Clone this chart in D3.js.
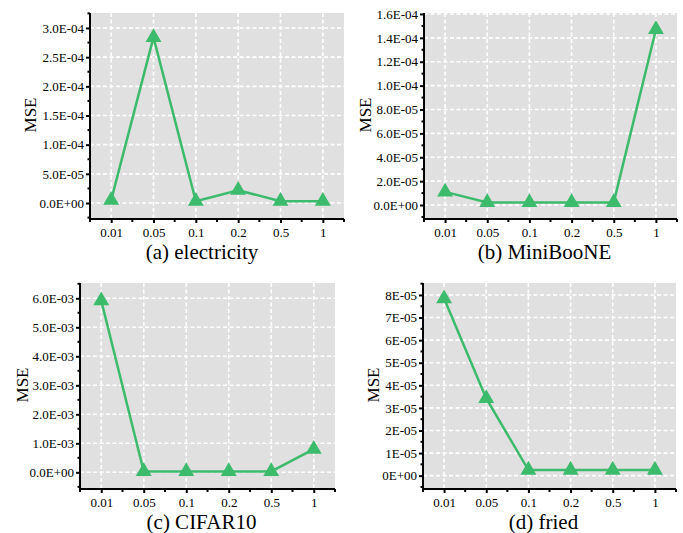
<!DOCTYPE html>
<html><head><meta charset="utf-8">
<script src="https://cdn.jsdelivr.net/npm/d3@7"></script>
<style>body{margin:0;background:#fff}svg{display:block}</style>
</head><body><svg id="c" width="683" height="533" font-family="Liberation Serif"></svg>
<script>
const categories = ["0.01","0.05","0.1","0.2","0.5","1"];
const electricity = [5e-6, 2.84e-4, 3e-6, 2.2e-5, 3e-6, 3e-6];
const miniboone = [1.1e-5, 2.2e-6, 2.2e-6, 2.2e-6, 2.2e-6, 1.47e-4];
const cifar10 = [5.92e-3, 3e-5, 3e-5, 3e-5, 3e-5, 8.0e-4];
const fried = [7.84e-5, 3.42e-5, 2.5e-6, 2.5e-6, 2.5e-6, 2.5e-6];
const ticksA = [0, 5e-5, 1e-4, 1.5e-4, 2e-4, 2.5e-4, 3e-4];
const ticksB = [0, 2e-5, 4e-5, 6e-5, 8e-5, 1e-4, 1.2e-4, 1.4e-4, 1.6e-4];
const ticksC = [0, 1e-3, 2e-3, 3e-3, 4e-3, 5e-3, 6e-3];
const ticksD = [0, 1e-5, 2e-5, 3e-5, 4e-5, 5e-5, 6e-5, 7e-5, 8e-5];
const captions = ["(a) electricity", "(b) MiniBooNE", "(c) CIFAR10", "(d) fried"];

const panels = [
  {vals: electricity, ticks: ticksA, dec: 1, domain: [-2.74e-5, 3.257e-4], cap: captions[0], x: 90, y: 13, w: 254, h: 206, lab: 60, capY: 259, capDx: -15},
  {vals: miniboone, ticks: ticksB, dec: 1, domain: [-1.17e-5, 1.608e-4], cap: captions[1], x: 424, y: 13, w: 253, h: 206, lab: 59, capY: 259, capDx: -6},
  {vals: cifar10, ticks: ticksC, dec: 1, domain: [-5.75e-4, 6.527e-3], cap: captions[2], x: 80, y: 283, w: 255, h: 206, lab: 58, capY: 529, capDx: -6},
  {vals: fried, ticks: ticksD, dec: 0, domain: [-5.9e-6, 8.53e-5], cap: captions[3], x: 423, y: 283, w: 253, h: 206, lab: 50, capY: 529, capDx: -6}
];

function sci(v, dec) {
  const s = v.toExponential(dec);
  const [m, e] = s.split("e");
  const n = parseInt(e, 10);
  return m + "E" + (n < 0 ? "-" : "+") + String(Math.abs(n)).padStart(2, "0");
}

const svg = d3.select("#c");
const green = "#3dbb6c";
const FONT = "Liberation Serif";

panels.forEach(p => {
  const g = svg.append("g").attr("transform", `translate(${p.x},${p.y})`);
  const x = d3.scalePoint().domain(categories).range([0, p.w]).padding(0.5);
  const y = d3.scaleLinear().domain(p.domain).range([p.h, 0]);
  const step = x.step();
  const majorStep = p.ticks[1] - p.ticks[0];

  g.append("rect").attr("width", p.w).attr("height", p.h).attr("fill", "#e0e0e0");

  g.selectAll(".gy").data(p.ticks).join("line")
    .attr("x1", 0).attr("x2", p.w).attr("y1", d => y(d)).attr("y2", d => y(d))
    .attr("stroke", "#fff").attr("stroke-width", 1.6).attr("stroke-dasharray", "4,2.5");
  g.selectAll(".gx").data(categories).join("line")
    .attr("x1", d => x(d)).attr("x2", d => x(d)).attr("y1", 0).attr("y2", p.h)
    .attr("stroke", "#fff").attr("stroke-width", 1.6).attr("stroke-dasharray", "4,2.5");

  const yAxis = d3.axisLeft(y).tickValues(p.ticks).tickFormat(d => sci(d, p.dec)).tickSize(4).tickPadding(2);
  const ya = g.append("g").call(yAxis).attr("font-family", FONT).attr("font-size", 13);
  ya.select(".domain").remove();
  ya.selectAll("line").attr("stroke", "#000").attr("stroke-width", 2);
  const minors = [];
  for (let v = Math.ceil(p.domain[0] / (majorStep / 2)) * (majorStep / 2); v <= p.domain[1]; v += majorStep / 2) {
    if (!p.ticks.some(t => Math.abs(t - v) < majorStep * 1e-3)) minors.push(v);
  }
  g.selectAll(".ym").data(minors).join("line")
    .attr("x1", -2.5).attr("x2", 0).attr("y1", d => y(d)).attr("y2", d => y(d))
    .attr("stroke", "#000").attr("stroke-width", 2);

  const xAxis = d3.axisBottom(x).tickSize(4).tickPadding(5);
  const xa = g.append("g").attr("transform", `translate(0,${p.h})`).call(xAxis).attr("font-family", FONT).attr("font-size", 13);
  xa.select(".domain").remove();
  xa.selectAll("line").attr("stroke", "#000").attr("stroke-width", 2);
  const xm = [0].concat(categories.map(c => x(c) + step / 2));
  g.selectAll(".xm").data(xm).join("line")
    .attr("x1", d => d).attr("x2", d => d).attr("y1", p.h).attr("y2", p.h + 3)
    .attr("stroke", "#000").attr("stroke-width", 2);

  g.append("line").attr("x1", 0).attr("x2", 0).attr("y1", 0).attr("y2", p.h + 1).attr("stroke", "#000").attr("stroke-width", 2);
  g.append("line").attr("x1", -1).attr("x2", p.w).attr("y1", p.h).attr("y2", p.h).attr("stroke", "#000").attr("stroke-width", 2);

  const data = categories.map((c, i) => ({c, v: p.vals[i]}));
  g.append("path").datum(data)
    .attr("d", d3.line().x(d => x(d.c)).y(d => y(d.v)))
    .attr("fill", "none").attr("stroke", green).attr("stroke-width", 2.5);
  g.selectAll(".pt").data(data).join("path")
    .attr("transform", d => `translate(${x(d.c)},${y(d.v)})`)
    .attr("d", d3.symbol(d3.symbolTriangle, 110))
    .attr("fill", green);

  g.append("text").attr("transform", `translate(${-p.lab},${p.h / 2 - 1}) rotate(-90)`)
    .attr("text-anchor", "middle").attr("dy", "0.35em").attr("font-family", FONT).attr("font-size", 17).text("MSE");
  g.append("text").attr("x", p.w / 2 + p.capDx).attr("y", p.capY - p.y)
    .attr("text-anchor", "middle").attr("font-family", FONT).attr("font-size", 21).text(p.cap);
});
</script></body></html>
